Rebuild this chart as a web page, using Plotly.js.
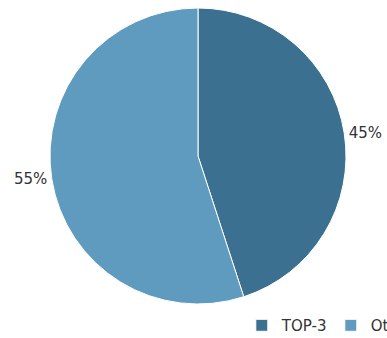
<!DOCTYPE html>
<html>
<head>
<meta charset="utf-8">
<script src="https://cdn.plot.ly/plotly-3.0.1.min.js"></script>
<style>html,body{margin:0;padding:0;background:#fff;}#chart{width:387px;height:338px;}</style>
</head>
<body>
<div id="chart"></div>
<script>
const categories = ["TOP-3", "Others"];
const shares = [45, 55];
const sliceColors = ["#3b7091", "#5f9bbf"];

const FONT = "DejaVu Sans";

const data = [{
  type: "pie",
  labels: categories,
  values: shares,
  sort: false,
  direction: "clockwise",
  rotation: 0,
  textinfo: "percent",
  textposition: "outside",
  texttemplate: "%{percent:.0%}",
  hoverinfo: "label+percent",
  marker: {colors: sliceColors, line: {color: "#ffffff", width: 1}},
  outsidetextfont: {family: FONT, size: 15, color: "#333333"},
  automargin: false
}];

const layout = {
  width: 387,
  height: 338,
  margin: {l: 50, r: 41, t: 8, b: 34, autoexpand: false},
  paper_bgcolor: "#ffffff",
  plot_bgcolor: "#ffffff",
  font: {family: FONT, size: 15, color: "#333333"},
  showlegend: true,
  legend: {
    orientation: "h",
    x: 0.648,
    xanchor: "left",
    y: -0.017,
    yanchor: "top",
    font: {family: FONT, size: 15, color: "#333333"},
    itemwidth: 30,
    entrywidth: 44,
    tracegroupgap: 0
  }
};

Plotly.newPlot("chart", data, layout, {displayModeBar: false, staticPlot: true});
</script>
</body>
</html>
